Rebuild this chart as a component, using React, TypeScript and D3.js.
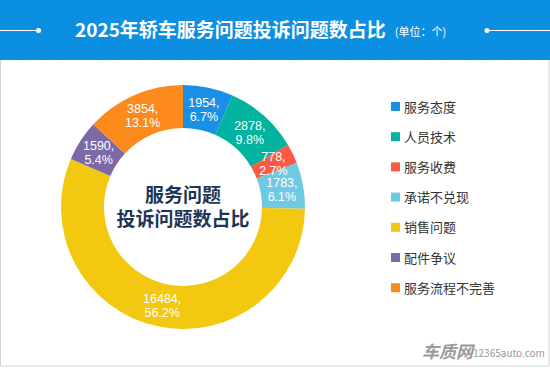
import React from "react";
import * as d3 from "d3";

const categories = ["服务态度", "人员技术", "服务收费", "承诺不兑现", "销售问题", "配件争议", "服务流程不完善"];
const values = [1954, 2878, 778, 1783, 16484, 1590, 3854];
const percents = ["6.7%", "9.8%", "2.7%", "6.1%", "56.2%", "5.4%", "13.1%"];
const colors = ["#1a8fe6", "#02b3a0", "#fb5a44", "#6ec9e3", "#f2c811", "#7c6aa6", "#fc8a1c"];

const W = 550, H = 368;
const cx = 183, cy = 207, rOuter = 122, rInner = 79;
const FONT = "'Noto Sans CJK SC', 'Noto Sans', sans-serif";
const NUMFONT = "'Liberation Sans', Arial, sans-serif";

export default function App() {
  const pie = d3.pie<number>().sort(null).value((d) => d)(values);
  const arc = d3.arc<d3.PieArcDatum<number>>().innerRadius(rInner).outerRadius(rOuter);
  const legendY = d3.scaleLinear().domain([0, 1]).range([107, 137.2]);

  return (
    <svg width={W} height={H} style={{ position: "absolute", left: 0, top: 0 }} fontFamily={FONT}>
      <defs>
        <pattern id="stripes" width="4" height="4" patternUnits="userSpaceOnUse" patternTransform="rotate(45)">
          <rect width="4" height="4" fill="#0a8de0" />
          <rect width="2" height="4" fill="#0c91e3" />
        </pattern>
      </defs>
      <rect x={0} y={0} width={W} height={H} fill="#fff" />
      <rect x={0.5} y={0} width={W - 1.5} height={H - 2} fill="#fff" stroke="#d4d4d4" />
      <rect x={0} y={0} width={W} height={60} fill="url(#stripes)" />
      {/* title decorations */}
      <line x1={0} y1={30.5} x2={38} y2={30.5} stroke="#fff" strokeWidth={1} />
      <circle cx={38.5} cy={30.5} r={2.5} fill="#fff" />
      <line x1={487} y1={30.5} x2={W} y2={30.5} stroke="#fff" strokeWidth={1} />
      <circle cx={487} cy={30.5} r={2.5} fill="#fff" />
      <text x={75} y={37} fill="#fff" fontSize={19} fontWeight="bold">
        2025年轿车服务问题投诉问题数占比
        <tspan fontSize={11} fontWeight="normal" dx={9} dy={-1}>(单位：个)</tspan>
      </text>

      {/* donut */}
      <g transform={`translate(${cx},${cy})`}>
        {pie.map((d, i) => (
          <path key={i} d={arc(d) || ""} fill={colors[i]} />
        ))}
        {pie.map((d, i) => {
          const [x, y] = arc.centroid(d);
          return (
            <g key={"t" + i} fontFamily={NUMFONT}>
              <text x={x} y={y - 2} fill="#fff" fontSize={12.5} textAnchor="middle">{values[i]},</text>
              <text x={x} y={y + 12} fill="#fff" fontSize={12.5} textAnchor="middle">{percents[i]}</text>
            </g>
          );
        })}
        <text x={0} y={-5} textAnchor="middle" fill="#1d3557" fontSize={19} fontWeight="bold">服务问题</text>
        <text x={0} y={19} textAnchor="middle" fill="#1d3557" fontSize={19} fontWeight="bold">投诉问题数占比</text>
      </g>

      {/* legend */}
      {categories.map((c, i) => {
        const y = legendY(i);
        return (
          <g key={"l" + i}>
            <rect x={391} y={y - 5} width={9} height={9} fill={colors[i]} />
            <text x={404} y={y + 4.5} fontSize={13} fill="#333">{c}</text>
          </g>
        );
      })}

      {/* logo */}
      <text x={422} y={358} fontSize={17} fontWeight="bold" fill="#9a9a9a" fontStyle="italic">车质网</text>
      <text x={473} y={357} fontSize={10} fill="#9a9a9a">12365auto.com</text>
    </svg>
  );
}
